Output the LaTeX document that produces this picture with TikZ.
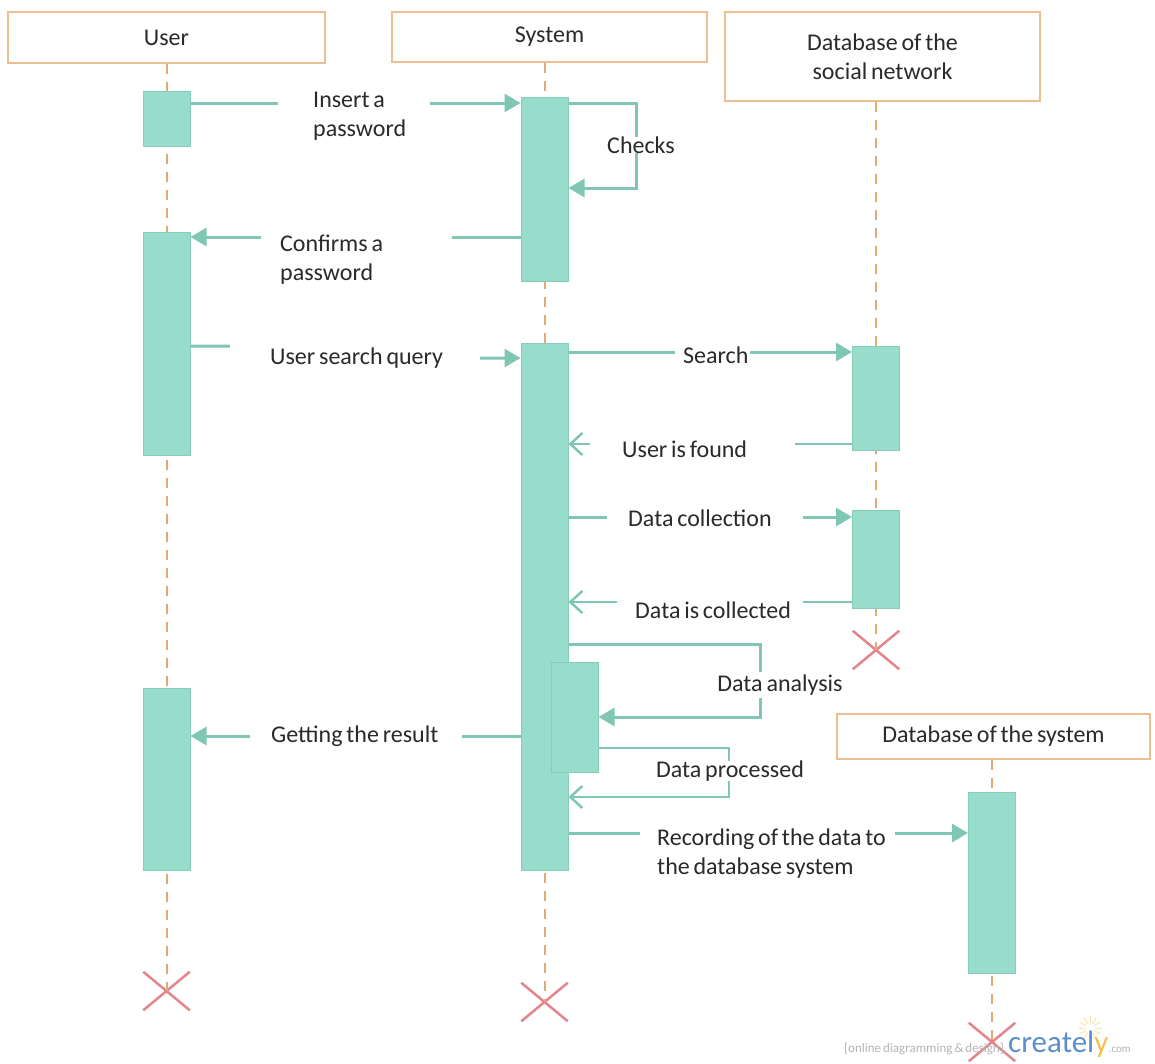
\documentclass[tikz,border=0pt]{standalone}
\usepackage{fontspec}
\setmainfont{Carlito}[WordSpace=0.7]
\usetikzlibrary{arrows.meta,shapes.misc}
\definecolor{barfill}{HTML}{98DCCB}
\definecolor{bardraw}{HTML}{86CDBA}
\definecolor{msgcol}{HTML}{80C6B4}
\definecolor{lifecol}{HTML}{E2AA76}
\definecolor{hdrcol}{HTML}{ECBF90}
\definecolor{xcol}{HTML}{E3868C}
\definecolor{txt}{HTML}{2A2A2A}
\definecolor{logoblue}{HTML}{5B8FCB}
\definecolor{logoyellow}{HTML}{F2C14E}
\definecolor{logogray}{HTML}{B4B4B4}

\begin{document}
\begin{tikzpicture}[x=1pt,y=-1pt,
  every node/.style={font=\fontsize{24}{29}\selectfont, text=txt},
  hdr/.style={draw=hdrcol, line width=2pt, fill=white, inner sep=0pt, align=center},
  actbar/.style={draw=bardraw, line width=1pt, fill=barfill, minimum width=47pt, inner sep=0pt},
  lifeline/.style={draw=lifecol, line width=2pt, dash pattern=on 10pt off 8pt},
  destroy/.style={cross out, draw=xcol, line width=2.5pt, minimum width=44pt, minimum height=36pt, inner sep=0pt},
  msg/.style={draw=msgcol, line width=3pt, -{Triangle[length=16pt,width=18pt]}},
  reply/.style={draw=msgcol, line width=2.5pt, -{Straight Barb[length=12pt,width=22pt]}},
  % message label that masks its arrow: left edge at the node position
  lbl/.style={fill=white, inner xsep=0pt, inner ysep=2pt, align=flush left, anchor=west},
  % label on the side of a self-message
  slbl/.style={fill=white, inner xsep=2pt, inner ysep=0pt},
]
% canvas
\path[fill=white] (0,0) rectangle (1155,1063);
\useasboundingbox (0,0) rectangle (1155,1063);

% lifeline heads
\node[hdr, minimum width=317pt, minimum height=51pt] (user) at (166.5,37.5) {User};
\node[hdr, minimum width=315pt, minimum height=50pt] (sys) at (549.5,37) {System};
\node[hdr, minimum width=315pt, minimum height=89pt] (soc) at (882.5,56.5) {Database of the\\social network};
\node[hdr, minimum width=313pt, minimum height=45pt] (sdbh) at (993.5,736.5) {Database of the system};

% destruction marks
\node[destroy] (ux) at (166.5,991) {};
\node[destroy] (sx) at (544.5,1002) {};
\node[destroy] (dx) at (876,650) {};
\node[destroy] (tx) at (992,1042) {};

% lifelines
\draw[lifeline] (user.south -| ux.center) -- (ux.center);
\draw[lifeline] (sys.south -| sx.center) -- (sx.center);
\draw[lifeline] (soc.south -| dx.center) -- (dx.center);
\draw[lifeline] (sdbh.south -| tx.center) -- (tx.center);

% activation bars
\node[actbar, minimum height=55pt]  (ub1) at (166.5,118.5) {};
\node[actbar, minimum height=184pt] (sb1) at (544.5,189) {};
\node[actbar, minimum height=223pt] (ub2) at (166.5,343.5) {};
\node[actbar, minimum height=527pt] (sb2) at (544.5,606.5) {};
\node[actbar, minimum height=104pt] (db1) at (876,398) {};
\node[actbar, minimum height=98pt]  (db2) at (876,559) {};
\node[actbar, minimum height=182pt] (ub3) at (166.5,779) {};
\node[actbar, minimum height=110pt] (nb)  at (574.5,717) {};
\node[actbar, minimum height=181pt] (sdb) at (992,882.5) {};

% Insert a password
\draw[msg] (ub1.east |- 0,103) -- (sb1.west |- 0,103);
\node[lbl, text width=152pt] (l1) at (278,116) {\hspace*{35pt}Insert a\\\hspace*{35pt}password};

% Checks
\coordinate (c1a) at (636,103);
\coordinate (c1b) at (636,188);
\draw[msg] (sb1.east |- c1a) -- (c1a) -- (c1b) -- (sb1.east |- c1b);
\node[slbl] (l2) at (641,145) {Checks};

% Confirms a password
\draw[msg] (sb1.west |- 0,237) -- (ub2.east |- 0,237);
\node[lbl, text width=191pt] (l3) at (261,260) {\hspace*{19pt}Confirms a\\\hspace*{19pt}password};

% User search query
\coordinate (q1) at (300,346);
\coordinate (q2) at (420,358);
\draw[msg] (ub2.east |- q1) -- (q1) -- (q2) -- (sb2.west |- q2);
\node[lbl, text width=250pt, inner ysep=6pt] (l4) at (230,358) {\hspace*{40pt}User search query};

% Search
\draw[msg] (sb2.east |- 0,352) -- (db1.west |- 0,352);
\node[lbl, text width=75pt, inner ysep=0pt] (l5) at (675,355) {\hspace*{8pt}Search};

% User is found
\draw[reply] (db1.west |- 0,444) -- (sb2.east |- 0,444);
\node[lbl, text width=205pt] (l6) at (590,449) {\hspace*{32pt}User is found};

% Data collection
\draw[msg] (sb2.east |- 0,517) -- (db2.west |- 0,517);
\node[lbl, text width=196pt] (l7) at (607,518) {\hspace*{21pt}Data collection};

% Data is collected
\draw[reply] (db2.west |- 0,602) -- (sb2.east |- 0,602);
\node[lbl, text width=186pt] (l8) at (617,610) {\hspace*{18pt}Data is collected};

% Data analysis
\coordinate (a1) at (760,644);
\coordinate (a2) at (760,717);
\draw[msg] (sb2.east |- a1) -- (a1) -- (a2) -- (nb.east |- a2);
\node[slbl, inner ysep=3pt] (l9) at (780,685) {Data analysis};

% Getting the result
\draw[msg] (sb2.west |- 0,736) -- (ub3.east |- 0,736);
\node[lbl, text width=212pt] (l10) at (250,736) {\hspace*{21pt}Getting the result};

% Data processed
\coordinate (p1) at (729,748);
\coordinate (p2) at (729,797);
\draw[reply] (nb.east |- p1) -- (p1) -- (p2) -- (sb2.east |- p2);
\node[slbl] (l11) at (730,771) {Data processed};

% Recording of the data
\draw[msg] (sb2.east |- 0,833) -- (sdb.west |- 0,833);
\node[lbl, text width=255pt] (l12) at (640,853.5) {\hspace*{17pt}Recording of the data to\\\hspace*{17pt}the database system};

% credit line
\foreach \a in {0,30,...,330}
  \draw[logoyellow!45, line width=1pt] (1090,1028) ++(\a:5pt) -- ++(\a:7pt);
\node[anchor=base east, inner sep=0pt, font=\fontsize{13}{13}\selectfont, text=logogray] (wm1) at (1004,1052) {[online diagramming \& design]};
\node[anchor=base west, inner sep=0pt, font=\fontsize{31}{31}\selectfont, text=logoblue] (wm2) at (1008,1052) {create\textcolor{logoblue}{l}\textcolor{logoyellow}{y}};
\node[anchor=base west, inner sep=0pt, font=\fontsize{11}{11}\selectfont, text=logogray] (wm3) at (wm2.base east) {.com};
\end{tikzpicture}
\end{document}
